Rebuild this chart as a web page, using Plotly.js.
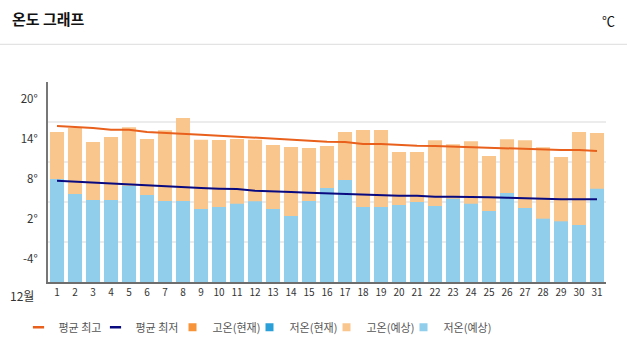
<!DOCTYPE html>
<html>
<head>
<meta charset="utf-8">
<script src="https://cdn.plot.ly/plotly-3.0.1.min.js"></script>
<style>html,body{margin:0;padding:0;background:#fff;}#chart{width:627px;height:359px;}</style>
</head>
<body>
<div id="chart"></div>
<script>
var days = [];
for (var d = 1; d <= 31; d++) days.push(d);
var dayLabels = days.map(String);

var highForecast = [15.0,15.6,13.5,14.25,15.7,13.95,15.25,17.1,13.85,13.8,13.95,13.85,13.05,12.75,12.6,
                    12.9,15.0,15.3,15.3,12.0,12.0,13.75,13.15,13.6,11.4,13.9,13.75,12.7,11.25,15.0,14.85];
var lowForecast  = [7.95,5.7,4.8,4.8,6.95,5.55,4.65,4.65,3.45,3.75,4.25,4.6,3.45,2.4,4.65,
                    6.6,7.8,3.75,3.75,4.05,4.5,3.9,5.0,4.25,3.15,5.85,3.6,2.0,1.6,1.05,6.5];
var avgHigh = [15.9,15.8,15.6,15.35,15.35,15.0,14.9,14.75,14.6,14.45,14.3,14.15,14.0,13.8,13.6,
               13.55,13.5,13.2,13.2,13.05,12.95,12.9,12.8,12.75,12.6,12.55,12.45,12.35,12.3,12.3,12.15];
var avgLow  = [7.7,7.55,7.4,7.25,7.1,6.95,6.8,6.65,6.6,6.5,6.45,6.2,6.05,6.0,5.9,
               5.8,5.7,5.7,5.6,5.45,5.45,5.3,5.3,5.3,5.2,5.15,5.05,5.0,4.9,4.9,4.9];
var highCurrent = days.map(function(){return null;});
var lowCurrent  = days.map(function(){return null;});

var seriesNames = ['평균 최고','평균 최저','고온(현재)','저온(현재)','고온(예상)','저온(예상)'];
var seriesColors = ['#e8601c','#0a0a80','#f7943a','#2a9fd8','#f9c68e','#90ceec'];

var yTickVals = [20,14,8,2,-4];
var yTickText = ['20°','14°','8°','2°','-4°'];

var FONT = '"Noto Sans CJK KR", "Noto Sans", sans-serif';
var base = -7.5;
var baseArr = days.map(function(){return base;});
function fromBase(arr){ return arr.map(function(v){return v===null?null:v-base;}); }

var traces = [
  {type:'bar', name:seriesNames[2], x:days, y:fromBase(highCurrent), base:baseArr,
   marker:{color:seriesColors[2]}, showlegend:false},
  {type:'bar', name:seriesNames[3], x:days, y:fromBase(lowCurrent), base:baseArr,
   marker:{color:seriesColors[3]}, showlegend:false},
  {type:'bar', name:seriesNames[4], x:days, y:fromBase(highForecast), base:baseArr,
   marker:{color:seriesColors[4]}, showlegend:false},
  {type:'bar', name:seriesNames[5], x:days, y:fromBase(lowForecast), base:baseArr,
   marker:{color:seriesColors[5]}, showlegend:false},
  {type:'scatter', mode:'lines', name:seriesNames[0], x:days, y:avgHigh,
   line:{color:seriesColors[0], width:2}, showlegend:false},
  {type:'scatter', mode:'lines', name:seriesNames[1], x:days, y:avgLow,
   line:{color:seriesColors[1], width:2}, showlegend:false}
];
// legend entries with compact swatches
for (var i = 0; i < seriesNames.length; i++) {
  var isLine = i < 2;
  traces.push({type:'scatter', mode:'markers', name:seriesNames[i], x:[null], y:[null],
    marker: isLine ? {symbol:'line-ew', size:8, line:{color:seriesColors[i], width:2.5}}
                   : {symbol:'square', size:8, color:seriesColors[i]},
    showlegend:true, legendrank:i+1});
}
// spacer so the last legend label is not clipped
traces.push({type:'scatter', mode:'markers', name:' ', x:[null], y:[null],
  marker:{size:1, color:'rgba(0,0,0,0)', line:{width:0}}, showlegend:true, legendrank:7});

var layout = {
  width:627, height:359,
  margin:{l:48, r:21, t:81.7, b:77.3},
  paper_bgcolor:'#fff', plot_bgcolor:'#fff',
  font:{family:FONT, color:'#333'},
  barmode:'overlay', bargap:0.22,
  showlegend:true, hovermode:false,
  title:{text:'<b>온도 그래프</b>', xref:'container', x:12/627, xanchor:'left',
         yref:'container', y:1-20/359, yanchor:'middle',
         font:{family:FONT, size:15, color:'#111'}},
  xaxis:{range:[0.5,31.5], tickvals:days, ticktext:dayLabels, showgrid:false, zeroline:false,
         showline:true, linecolor:'#6e6e6e', linewidth:2, ticks:'',
         tickfont:{size:10, color:'#333', family:FONT}, fixedrange:true},
  yaxis:{range:[-7.5,22.5], tickvals:yTickVals, ticktext:yTickText, showgrid:false, zeroline:false,
         showline:true, linecolor:'#777', linewidth:2, ticks:'', ticklabelstandoff:6,
         tickfont:{size:11.5, color:'#333', family:FONT},
         minor:{tickvals:[22.5,16.5,10.5,4.5,-1.5], showgrid:true, gridcolor:'#ececec', gridwidth:2, ticks:''},
         fixedrange:true},
  legend:{orientation:'h', x:(18.5-48)/558, xanchor:'left', y:-0.2265, yanchor:'middle',
          font:{size:11, color:'#555', family:FONT}, itemwidth:30,
          entrywidth:32, entrywidthmode:'pixels', traceorder:'normal', bgcolor:'rgba(0,0,0,0)'},
  shapes:[
    {type:'line', xref:'paper', yref:'paper', x0:-48/558, x1:1+21/558, y0:(281.7-44)/200, y1:(281.7-44)/200,
     line:{color:'#dddddd', width:1}}
  ],
  annotations:[
    {text:'℃', xref:'paper', yref:'paper', x:(608-48)/558, y:(281.7-20)/200, showarrow:false,
     xanchor:'center', yanchor:'middle', font:{size:13, color:'#111', family:FONT}},
    {text:'12월', xref:'paper', yref:'paper', x:(22-48)/558, y:(281.7-295)/200, showarrow:false,
     xanchor:'center', yanchor:'middle', font:{size:12, color:'#333', family:FONT}}
  ]
};

Plotly.newPlot('chart', traces, layout, {displayModeBar:false, staticPlot:true});
</script>
</body>
</html>
